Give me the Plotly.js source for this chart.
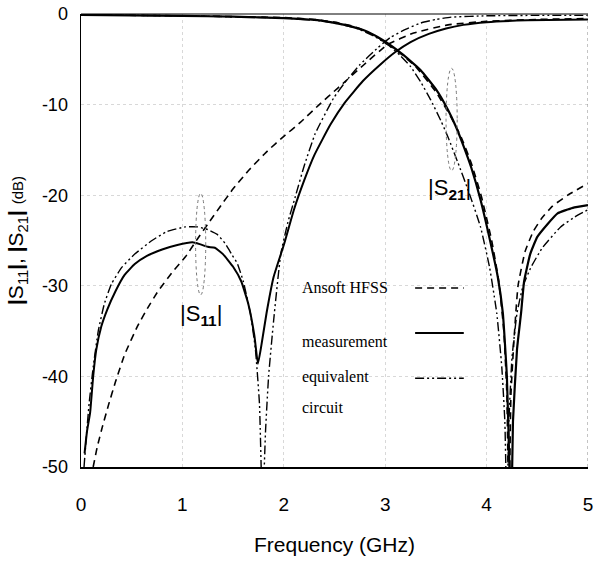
<!DOCTYPE html>
<html><head><meta charset="utf-8">
<script src="https://cdn.plot.ly/plotly-3.0.1.min.js"></script>
<style>body{margin:0;background:#fff}#c{width:595px;height:572px}</style>
</head><body><div id="c"></div>
<script>
// |S11| curves
const s11MeasF = [0.035,0.06,0.09,0.12,0.15,0.2,0.26,0.34,0.43,0.53,0.65,0.8,0.95,1.1,1.17,1.25,1.32,1.4,1.5,1.58,1.65,1.71,1.745,1.78,1.83,1.9,2.0,2.1,2.2,2.3,2.46,2.6,2.78,2.95,3.1,3.25,3.43,3.6,3.77,4.0,4.4,5.0];
const s11MeasDB = [-48.5,-46,-44,-40,-37.1,-34.5,-32.6,-30.6,-28.8,-27.6,-26.7,-26.0,-25.5,-25.2,-25.4,-25.7,-25.8,-26.5,-27.9,-29.5,-32.0,-35.5,-38.6,-36.5,-33,-29,-25.5,-21.6,-18.4,-15.6,-12.2,-9.8,-7.4,-5.6,-4.2,-3.1,-2.2,-1.6,-1.2,-0.9,-0.7,-0.6];
const s11HfssF = [0.12,0.16,0.21,0.27,0.34,0.43,0.56,0.66,0.76,0.9,1.03,1.15,1.25,1.37,1.5,1.65,1.84,2.0,2.16,2.35,2.53,2.79,3.02,3.28,3.62,4.0,4.5,5.0];
const s11HfssDB = [-50,-47.8,-45.6,-43.2,-40.6,-37.6,-34.4,-32.4,-30.6,-28.5,-26.8,-24.8,-23.2,-21.3,-19.3,-17.3,-15.1,-13.5,-12.0,-10.0,-8.2,-5.6,-3.4,-2.1,-1.2,-0.8,-0.6,-0.5];
const s11CircF = [0.03,0.05,0.08,0.12,0.17,0.23,0.3,0.4,0.53,0.7,0.85,1.03,1.15,1.25,1.34,1.42,1.49,1.54,1.6,1.67,1.72,1.76,1.79,1.82,1.85,1.9,1.97,2.04,2.11,2.2,2.31,2.49,2.6,2.75,2.93,3.05,3.2,3.35,3.5,3.65,4.0,4.5,5.0];
const s11CircDB = [-50,-47,-43,-39,-35,-32,-29.8,-28,-26.5,-25.0,-24.0,-23.5,-23.5,-23.8,-24.3,-25.3,-26.6,-27.5,-29.5,-33,-37,-43,-55,-46,-40,-33.8,-26.5,-23.0,-20.3,-16.8,-13.2,-9.3,-7.6,-5.6,-3.7,-2.6,-1.7,-1.0,-0.6,-0.35,-0.2,-0.15,-0.15];
// |S21| curves
const s21MeasF = [0,0.5,1.0,1.5,2.0,2.3,2.46,2.6,2.79,2.95,3.12,3.25,3.35,3.5,3.62,3.7,3.77,3.85,3.94,4.04,4.11,4.16,4.2,4.225,4.24,4.26,4.3,4.34,4.37,4.43,4.5,4.6,4.7,4.85,5.0];
const s21MeasDB = [-0.1,-0.15,-0.2,-0.3,-0.45,-0.65,-0.9,-1.2,-1.8,-2.7,-4.0,-5.2,-6.2,-8.3,-10.6,-12.5,-14.5,-17,-20.5,-25.3,-29,-33,-40,-50,-58,-45,-37,-33,-29.5,-26.5,-24.6,-23.2,-22.0,-21.4,-21.1];
const s21HfssF = [0,1.0,2.0,2.3,2.5,2.7,2.9,3.1,3.3,3.5,3.65,3.75,3.85,3.95,4.05,4.12,4.17,4.2,4.22,4.24,4.27,4.31,4.38,4.46,4.54,4.65,4.8,5.0];
const s21HfssDB = [-0.1,-0.2,-0.4,-0.6,-0.9,-1.4,-2.4,-3.9,-5.8,-8.6,-11.4,-13.6,-16.5,-20.2,-25,-29.5,-35,-42,-56,-42,-36,-30,-26.2,-24,-22.6,-21.2,-20.0,-18.7];
const s21CircF = [0,1.0,2.0,2.4,2.7,2.9,3.05,3.15,3.25,3.35,3.45,3.55,3.62,3.72,3.82,3.94,4.03,4.1,4.15,4.18,4.2,4.22,4.25,4.3,4.36,4.44,4.55,4.73,4.87,5.0];
const s21CircDB = [-0.1,-0.2,-0.45,-0.8,-1.5,-2.5,-3.6,-4.6,-5.8,-7.5,-9.5,-11.8,-13.6,-16.5,-19.5,-23.5,-28,-33,-39,-45,-55,-45,-38,-33,-30,-27.9,-25.8,-23.5,-22.4,-21.6];

const xTicks = [0,1,2,3,4,5];
const yTicks = [0,-10,-20,-30,-40,-50];
const legendNames = ['Ansoft HFSS','measurement','equivalent','circuit'];

const DASH = '7px,5px';
const DDOT = '9px,3px,2px,3px,2px,3px';
function tr(x,y,dash,w){return {x:x,y:y,type:'scatter',mode:'lines',line:{color:'#000',width:w,dash:dash,shape:'spline',smoothing:0.4},showlegend:false,hoverinfo:'skip'};}
const data = [
  tr(s11HfssF,s11HfssDB,DASH,1.6),
  tr(s11CircF,s11CircDB,DDOT,1.4),
  tr(s11MeasF,s11MeasDB,'solid',2),
  tr(s21HfssF,s21HfssDB,DASH,1.6),
  tr(s21CircF,s21CircDB,DDOT,1.4),
  tr(s21MeasF,s21MeasDB,'solid',2.2)
];
const ARIAL = 'Liberation Sans, Arial, sans-serif';
const SERIF = 'Liberation Serif, Times New Roman, serif';
const shapes = [
  {type:'circle',xref:'x',yref:'y',x0:1.13,x1:1.23,y0:-31,y1:-19.8,line:{color:'#777',width:1,dash:'dot'}},
  {type:'circle',xref:'x',yref:'y',x0:3.6,x1:3.71,y0:-17.3,y1:-6,line:{color:'#777',width:1,dash:'dot'}},
  {type:'line',xref:'x',yref:'paper',x0:5,x1:5,y0:0,y1:1,line:{color:'#888',width:1,dash:'dot'}},
  {type:'line',xref:'paper',yref:'paper',x0:0.659,x1:0.755,y0:0.395,y1:0.395,line:{color:'#000',width:1.6,dash:DASH}},
  {type:'line',xref:'paper',yref:'paper',x0:0.659,x1:0.755,y0:0.296,y1:0.296,line:{color:'#000',width:2}},
  {type:'line',xref:'paper',yref:'paper',x0:0.659,x1:0.755,y0:0.196,y1:0.196,line:{color:'#000',width:1.6,dash:DDOT}},
  {type:'line',xref:'paper',yref:'paper',x0:0,x1:1,y0:1,y1:1,line:{color:'#000',width:1}}
];
const legY = [0.397,0.276,0.199,0.132];
const annotations = legendNames.map((t,i)=>({xref:'paper',yref:'paper',x:0.432,y:legY[i],xanchor:'left',yanchor:'middle',text:t,showarrow:false,font:{family:SERIF,size:16,color:'#000'}}));
annotations.push({xref:'x',yref:'y',x:1.18,y:-33.2,text:'|S<sub><b>11</b></sub>|',showarrow:false,font:{family:ARIAL,size:22,color:'#000'}});
annotations.push({xref:'x',yref:'y',x:3.63,y:-19.3,text:'|S<sub><b>21</b></sub>|',showarrow:false,font:{family:ARIAL,size:22,color:'#000'}});

const layout = {
  width:595,height:572,
  margin:{l:81,r:7,t:14,b:105},
  paper_bgcolor:'#fff',plot_bgcolor:'#fff',
  showlegend:false,
  xaxis:{range:[0,5],tickvals:xTicks,ticktext:xTicks.map(String),showgrid:true,gridcolor:'#d8d8d8',griddash:'dot',zeroline:false,
    showline:true,linecolor:'#000',linewidth:2,mirror:false,ticks:'',ticklabelstandoff:19,
    tickfont:{family:ARIAL,size:19,color:'#000'},
    title:{text:'Frequency (GHz)',font:{family:ARIAL,size:21,color:'#000'},standoff:24}},
  yaxis:{range:[-50,0],tickvals:yTicks,ticktext:yTicks.map(String),showgrid:true,gridcolor:'#d8d8d8',griddash:'dot',zeroline:false,
    showline:true,linecolor:'#000',linewidth:1.5,ticks:'',ticklabelstandoff:8,
    tickfont:{family:ARIAL,size:18,color:'#000'},
    title:{text:'<b>|</b>S<sub>11</sub><b>|</b>, <b>|</b>S<sub>21</sub><b>|</b> <span style="font-size:15px">(dB)</span>',font:{family:ARIAL,size:21,color:'#000'},standoff:12}},
  shapes:shapes,annotations:annotations
};
Plotly.newPlot('c',data,layout,{staticPlot:true,displayModeBar:false});
</script></body></html>
